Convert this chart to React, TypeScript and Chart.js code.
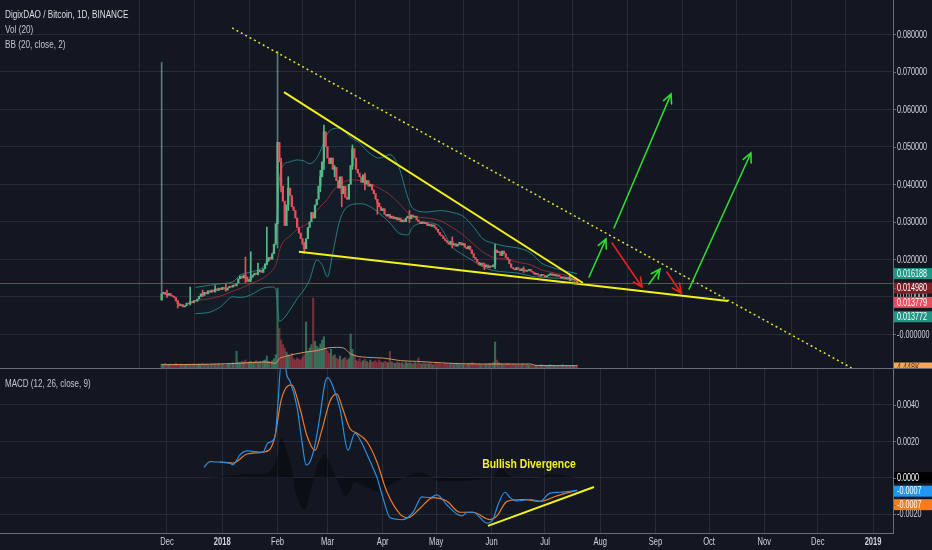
import React, { useEffect, useRef } from "react";
import { Chart, registerables } from "chart.js";

Chart.register(...registerables);

// ---------------- data (day 0 = 1 Dec 2017, one candle per day) ----------------
const firstDay = -3;
const firstOpen = 0.0092;
const closes: number[] = [
  0.0108, 0.0112, 0.0106, 0.0104, 0.0109, 0.0103, 0.0101, 0.0098, 0.0089, 0.0082,
  0.0076, 0.0079, 0.0073, 0.0076, 0.0083, 0.0081, 0.0087, 0.0084, 0.0090, 0.0088,
  0.0094, 0.0101, 0.0108, 0.0104, 0.0112, 0.0108, 0.0116, 0.0112, 0.0118, 0.0114,
  0.0121, 0.0117, 0.0123, 0.0119, 0.0125, 0.0121, 0.0118, 0.0124, 0.0128, 0.0126,
  0.0131, 0.0129, 0.0136, 0.0148, 0.0155, 0.0150, 0.0158, 0.0153, 0.0141, 0.0146,
  0.0152, 0.0158, 0.0163, 0.0160, 0.0167, 0.0171, 0.0165, 0.0175, 0.0188, 0.0196,
  0.0205, 0.0200, 0.0215, 0.0240, 0.0295, 0.0512, 0.0460, 0.0395, 0.0355, 0.0290,
  0.0345, 0.0390, 0.0370, 0.0340, 0.0330, 0.0310, 0.0285, 0.0270, 0.0255, 0.0240,
  0.0228, 0.0255, 0.0285, 0.0300, 0.0325, 0.0310, 0.0345, 0.0360, 0.0395, 0.0420,
  0.0460, 0.0540, 0.0500, 0.0470, 0.0455, 0.0470, 0.0440, 0.0445, 0.0410, 0.0390,
  0.0420, 0.0375, 0.0395, 0.0365, 0.0360, 0.0400, 0.0450, 0.0495, 0.0470, 0.0440,
  0.0430, 0.0420, 0.0405, 0.0425, 0.0400, 0.0410, 0.0395, 0.0400, 0.0385, 0.0375,
  0.0360, 0.0350, 0.0340, 0.0330, 0.0335, 0.0320, 0.0315, 0.0320, 0.0310, 0.0315,
  0.0308, 0.0312, 0.0305, 0.0310, 0.0300, 0.0305, 0.0300, 0.0310, 0.0315, 0.0308,
  0.0318, 0.0312, 0.0315, 0.0305, 0.0300, 0.0295, 0.0300, 0.0295, 0.0298, 0.0290,
  0.0293, 0.0288, 0.0292, 0.0285, 0.0280, 0.0272, 0.0265, 0.0262, 0.0255, 0.0250,
  0.0245, 0.0240, 0.0248, 0.0238, 0.0242, 0.0235, 0.0240, 0.0245, 0.0238, 0.0242,
  0.0232, 0.0228, 0.0235, 0.0225, 0.0215, 0.0205, 0.0200, 0.0192, 0.0185, 0.0190,
  0.0182, 0.0180, 0.0185, 0.0178, 0.0182, 0.0180, 0.0185, 0.0225, 0.0218, 0.0220,
  0.0210, 0.0222, 0.0215, 0.0205, 0.0200, 0.0188, 0.0178, 0.0175, 0.0172, 0.0178,
  0.0174, 0.0170, 0.0175, 0.0172, 0.0168, 0.0170, 0.0173, 0.0168, 0.0165, 0.0160,
  0.0162, 0.0158, 0.0155, 0.0160, 0.0157, 0.0153, 0.0156, 0.0158, 0.0162, 0.0157,
  0.0160, 0.0155, 0.0158, 0.0154, 0.0150, 0.0153, 0.0148, 0.0152, 0.0147, 0.0150,
  0.0145, 0.0148, 0.0143, 0.013779,
];

// [day, low, high] of visible wicks
const wickSpikes: number[][] = [
  [-3, 0.009, 0.0725], [0, 0.0098, 0.0118], [6, 0.007, 0.009], [13, 0.0078, 0.0126],
  [20, 0.01, 0.0118], [27, 0.0112, 0.013], [33, 0.0115, 0.0133], [44, 0.0138, 0.0206],
  [47, 0.014, 0.022], [51, 0.0158, 0.019], [56, 0.0185, 0.0286], [62, 0.023, 0.0755],
  [64, 0.038, 0.047], [68, 0.033, 0.042], [77, 0.0215, 0.0245], [86, 0.038, 0.0437],
  [88, 0.044, 0.0558], [94, 0.042, 0.045], [98, 0.034, 0.0395], [104, 0.044, 0.0505],
  [111, 0.0385, 0.043], [118, 0.032, 0.036], [136, 0.0298, 0.033], [160, 0.023, 0.026],
  [178, 0.0172, 0.019], [184, 0.0175, 0.024], [200, 0.0165, 0.018], [226, 0.0142, 0.016],
];

// volume, thousands
const volumesK: number[] = [
  6, 5, 7, 4, 5, 6, 4, 5, 7, 5,
  4, 6, 5, 4, 5, 6, 4, 5, 6, 4,
  5, 6, 5, 7, 5, 6, 5, 4, 6, 5,
  6, 5, 7, 5, 6, 5, 4, 6, 7, 6,
  8, 7, 25, 9, 8, 10, 9, 12, 8, 9,
  10, 8, 9, 11, 8, 10, 9, 11, 12, 18,
  10, 9, 11, 14, 20, 120, 59, 42, 35, 30,
  24, 20, 18, 22, 14, 12, 15, 13, 12, 16,
  20, 69, 25, 30, 35, 105, 40, 33, 30, 36,
  42, 47, 30, 26, 22, 28, 18, 20, 15, 13,
  18, 12, 14, 16, 12, 14, 51, 28, 20, 12,
  10, 14, 9, 11, 13, 10, 8, 12, 9, 10,
  11, 8, 12, 9, 8, 10, 9, 8, 25, 9,
  8, 7, 9, 8, 7, 8, 6, 9, 7, 8,
  7, 6, 8, 7, 15, 7, 6, 8, 6, 7,
  6, 7, 5, 6, 8, 6, 7, 5, 6, 7,
  6, 5, 7, 6, 5, 6, 7, 5, 6, 5,
  6, 5, 7, 6, 8, 7, 6, 5, 6, 5,
  6, 5, 6, 5, 7, 6, 8, 39, 12, 8,
  7, 6, 5, 6, 7, 6, 5, 6, 5, 4,
  5, 4, 5, 6, 4, 5, 4, 5, 4, 3,
  4, 3, 4, 5, 3, 4, 3, 4, 5, 3,
  4, 3, 4, 3, 4, 5, 3, 4, 3, 4,
  3, 4, 3, 4.448,
];

const volMaDays = [-3, 20, 40, 55, 61, 63, 66, 72, 78, 84, 90, 95, 99, 103, 112, 121, 131, 140, 159, 177, 204, 207, 230];
const volMaValues = [5, 5.5, 7, 9, 7, 14, 17, 21, 24, 26, 30, 31, 30, 21, 16, 15, 11, 10, 7, 6, 6, 3.8, 3.5];

// Bollinger Bands (20, close, 2)
const bbDays = [16, 24, 30, 37, 41, 47, 54, 59, 61, 62, 63, 65, 69, 73, 77, 80, 84, 87, 90, 93, 97, 103, 108, 112, 119, 125, 130, 135, 138, 146, 153, 160, 166, 172, 177, 183, 190, 197, 204, 210, 217, 224, 230];
const bbUpper = [0.0125, 0.0131, 0.0135, 0.014, 0.0158, 0.0166, 0.018, 0.0215, 0.0255, 0.0335, 0.041, 0.045, 0.046, 0.0465, 0.0462, 0.0455, 0.047, 0.05, 0.0535, 0.0548, 0.055, 0.0525, 0.051, 0.049, 0.047, 0.0479, 0.0447, 0.0366, 0.0335, 0.0326, 0.033, 0.0325, 0.0315, 0.0286, 0.0255, 0.0243, 0.0235, 0.023, 0.0217, 0.019, 0.0177, 0.0168, 0.016188];
const bbBasis = [0.009, 0.0095, 0.0102, 0.0115, 0.0122, 0.0135, 0.015, 0.017, 0.0185, 0.02, 0.0222, 0.0245, 0.0262, 0.028, 0.029, 0.03, 0.033, 0.0345, 0.036, 0.0382, 0.04, 0.0412, 0.041, 0.0405, 0.039, 0.0372, 0.035, 0.0325, 0.0315, 0.031, 0.0303, 0.0285, 0.0265, 0.024, 0.022, 0.0205, 0.02, 0.0192, 0.0185, 0.0172, 0.0164, 0.0157, 0.01498];
const bbLower = [0.0055, 0.0059, 0.0073, 0.01, 0.0098, 0.0105, 0.0123, 0.0126, 0.012, 0.007, 0.0035, 0.004, 0.0065, 0.0095, 0.012, 0.0145, 0.0198, 0.0185, 0.0153, 0.0217, 0.0305, 0.0345, 0.0348, 0.0345, 0.0323, 0.0297, 0.027, 0.0265, 0.0287, 0.0297, 0.0287, 0.0233, 0.0212, 0.0195, 0.018, 0.017, 0.0166, 0.0163, 0.0155, 0.0152, 0.015, 0.0147, 0.013772];

// MACD (12, 26, close, 9)
const macdDays = [20.8, 24.1, 30, 35.3, 37, 40.9, 44.9, 53.8, 56.6, 60.6, 62.3, 63.9, 66.2, 67.3, 69, 72.9, 75.7, 78, 80.2, 83, 85.8, 88.6, 90.3, 93.1, 97, 101.5, 105.4, 108.2, 113.9, 117.8, 121.1, 125.1, 132.4, 138, 143, 147.5, 151.4, 157, 162.6, 165.5, 168.3, 171.6, 179.5, 182.8, 185.6, 189.6, 192.4, 196.3, 203.6, 209.2, 214.8, 220.4, 230];
const macdValues = [0.00057, 0.00088, 0.00085, 0.0008, 0.0007, 0.00125, 0.00147, 0.0014, 0.0019, 0.00225, 0.0042, 0.0062, 0.0062, 0.0056, 0.0053, 0.0039, 0.00197, 0.0007, 0.00087, 0.0018, 0.0034, 0.0052, 0.0055, 0.005, 0.0038, 0.0015, 0.00245, 0.0021, 0.0009, 0.0, -0.0011, -0.0022, -0.0023, -0.0019, -0.00105, -0.0011, -0.00095, -0.0015, -0.002, -0.0021, -0.0019, -0.0019, -0.0025, -0.0023, -0.0015, -0.0008, -0.0011, -0.00128, -0.0012, -0.0013, -0.00085, -0.0008, -0.0007];
const signalDays = [29.7, 37, 44.9, 53.8, 58, 60.6, 63.9, 66.5, 69.9, 74.6, 78.5, 83, 86.8, 91.4, 95.2, 98.5, 102.6, 106.4, 112, 117.6, 123.2, 130.7, 135.2, 141.9, 149.2, 157, 164.3, 171.6, 181.2, 185.1, 190.7, 199.7, 209.2, 218.7, 230];
const signalValues = [0.00086, 0.0008, 0.0013, 0.0014, 0.0016, 0.0023, 0.0042, 0.0049, 0.0051, 0.0038, 0.0023, 0.0015, 0.0026, 0.0042, 0.0046, 0.0038, 0.0027, 0.00245, 0.002, 0.0009, -0.00075, -0.002, -0.0022, -0.00168, -0.0011, -0.0013, -0.0019, -0.0019, -0.0023, -0.0021, -0.0013, -0.0012, -0.0013, -0.001, -0.0007];
const histDays = [21, 35, 45, 54, 58, 62, 64, 67, 70, 72, 75, 77, 80, 83, 86, 89, 91, 94, 97, 100, 103, 105, 109, 114, 119, 125, 131, 138, 142, 147, 153, 164, 176, 183, 187, 192, 204, 215, 230];
const histValues = [0, 0.0001, 0.0002, 0.0002, 0.0004, 0.0012, 0.0022, 0.0015, 0.0005, -0.0008, -0.0015, -0.0018, -0.001, 0.0003, 0.001, 0.0013, 0.0008, 0.0002, -0.0005, -0.001, -0.0007, -0.0002, -0.0004, -0.0006, -0.0008, -0.0004, -0.0001, 0.0002, 0.0003, 0.0001, -0.0002, -0.0002, -0.0001, 0, 0.0005, 0.0001, -0.0001, 0.0002, 0];

// axis ticks
const monthTickDays = [0, 31, 62, 90, 121, 151, 182, 212, 243, 274, 304, 335, 365, 396];
const monthTickLabels = ["Dec", "2018", "Feb", "Mar", "Apr", "May", "Jun", "Jul", "Aug", "Sep", "Oct", "Nov", "Dec", "2019"];
const priceTicks = [0, 0.01, 0.02, 0.03, 0.04, 0.05, 0.06, 0.07, 0.08];
const macdTicks = [-0.002, 0, 0.002, 0.004];

// drawings: [day, price]
const wedgeUpper = [[65.6, 0.0646], [233.3, 0.01368]];
const wedgeLower = [[74, 0.022], [314.6, 0.00889]];
const dottedTrend = [[36.5, 0.0817], [384, -0.009]];
const greenArrows = [
  [[236.7, 0.01528], [246.2, 0.02541]],
  [[250.7, 0.02835], [282.7, 0.06408]],
  [[270.3, 0.01341], [276.5, 0.01741]],
  [[292.8, 0.01208], [327.5, 0.04835]],
];
const redArrows = [
  [[249.6, 0.02435], [266.4, 0.01261]],
  [[280.4, 0.01661], [288.3, 0.01101]],
];
const macdTrend = [[180, -0.00265], [239.5, -0.00051]];
const noteText = "Bullish Divergence";
const notePos = [203, 0.00075];

const titleLines = ["DigixDAO / Bitcoin, 1D, BINANCE", "Vol (20)", "BB (20, close, 2)"];
const macdTitle = "MACD (12, 26, close, 9)";

// ---------------- style ----------------
const W = 932;
const TOP_H = 368;
const BOT_H = 182;
const AXIS_W = 39;
const BG = "#131722";
const GRID = "#272b36";
const AXIS = "#6a6d78";
const TXT = "#d1d4dc";
const UP = "#53b987";
const DOWN = "#eb4d5c";
const FONT = "'Liberation Sans', Arial, sans-serif";

const X_MIN = -93.66;
const X_MAX = 407.18;
const P_MIN = -0.00899;
const P_MAX = 0.08915;
const VOL_MAX = 552;
const M_MIN = -0.00304;
const M_MAX = 0.00597;

// ---------------- helpers ----------------
function drawText(ctx: CanvasRenderingContext2D, s: string, x: number, y: number, size: number, color: string, align: CanvasTextAlign = "left", bold = false, sx = 0.72) {
  ctx.save();
  ctx.translate(x, y);
  ctx.scale(sx, 1);
  ctx.font = `${bold ? "bold " : ""}${size}px ${FONT}`;
  ctx.fillStyle = color;
  ctx.textAlign = align;
  ctx.textBaseline = "middle";
  ctx.fillText(s, 0, 0);
  ctx.restore();
}

type Tag = { v: number; text: string; bg: string; fg: string };
function drawTags(ctx: CanvasRenderingContext2D, scale: any, tags: Tag[], gap: number, left: number) {
  let prev = -Infinity;
  for (const t of tags) {
    let c = scale.getPixelForValue(t.v);
    if (c < prev + gap) c = prev + gap;
    prev = c;
    ctx.fillStyle = t.bg;
    ctx.fillRect(left + 1, c - 5.5, W - left - 1, 11);
    ctx.strokeStyle = AXIS;
    ctx.lineWidth = 1;
    ctx.beginPath();
    ctx.moveTo(left, Math.round(c) + 0.5);
    ctx.lineTo(left + 3, Math.round(c) + 0.5);
    ctx.stroke();
    drawText(ctx, t.text, left + 4, c + 0.5, 10, t.fg);
  }
}

function drawArrow(ctx: CanvasRenderingContext2D, xs: any, ys: any, seg: number[][], color: string) {
  const x0 = xs.getPixelForValue(seg[0][0]);
  const y0 = ys.getPixelForValue(seg[0][1]);
  const x1 = xs.getPixelForValue(seg[1][0]);
  const y1 = ys.getPixelForValue(seg[1][1]);
  const a = Math.atan2(y1 - y0, x1 - x0);
  const L = 10;
  ctx.strokeStyle = color;
  ctx.lineWidth = 1.6;
  ctx.lineCap = "round";
  ctx.beginPath();
  ctx.moveTo(x0, y0);
  ctx.lineTo(x1, y1);
  ctx.moveTo(x1 - L * Math.cos(a - 0.45), y1 - L * Math.sin(a - 0.45));
  ctx.lineTo(x1, y1);
  ctx.lineTo(x1 - L * Math.cos(a + 0.45), y1 - L * Math.sin(a + 0.45));
  ctx.stroke();
}

const pts = (days: number[], vals: number[]) => days.map((d, i) => ({ x: d, y: vals[i] }));
const segPts = (seg: number[][]) => seg.map((p) => ({ x: p[0], y: p[1] }));

export default function App() {
  const topRef = useRef<HTMLCanvasElement>(null);
  const botRef = useRef<HTMLCanvasElement>(null);

  useEffect(() => {
    document.body.style.margin = "0";
    document.body.style.background = BG;
    const days = closes.map((_, i) => firstDay + i);
    const opens = closes.map((c, i) => (i === 0 ? firstOpen : closes[i - 1]));
    const up = closes.map((c, i) => c >= opens[i]);
    const dayIndex = (d: number) => d - firstDay;
    const lastClose = closes[closes.length - 1];

    const monthTicks = (s: any) => {
      s.ticks = monthTickDays.map((v) => ({ value: v }));
    };

    const topOverlay = {
      id: "topOverlay",
      afterDatasetsDraw(chart: any) {
        const { ctx, chartArea } = chart;
        const xs = chart.scales.x;
        const ys = chart.scales.y;
        ctx.save();
        ctx.beginPath();
        ctx.rect(chartArea.left, chartArea.top, chartArea.right - chartArea.left, chartArea.bottom - chartArea.top);
        ctx.clip();
        const py = Math.round(ys.getPixelForValue(lastClose)) + 0.5;
        ctx.strokeStyle = "rgba(235,77,92,0.6)";
        ctx.lineWidth = 1;
        ctx.beginPath();
        ctx.moveTo(chartArea.left, py);
        ctx.lineTo(chartArea.right, py);
        ctx.stroke();
        greenArrows.forEach((s) => drawArrow(ctx, xs, ys, s, "#2fdc2f"));
        redArrows.forEach((s) => drawArrow(ctx, xs, ys, s, "#e8221f"));
        ctx.restore();
      },
      afterDraw(chart: any) {
        const { ctx, chartArea } = chart;
        const ys = chart.scales.y;
        const yv = chart.scales.yVol;
        const ax = chartArea.right;
        ctx.save();
        for (const v of priceTicks) {
          const y = ys.getPixelForValue(v);
          ctx.strokeStyle = AXIS;
          ctx.lineWidth = 1;
          ctx.beginPath();
          ctx.moveTo(ax, Math.round(y) + 0.5);
          ctx.lineTo(ax + 3, Math.round(y) + 0.5);
          ctx.stroke();
          drawText(ctx, v === 0 ? "-0.000000" : v.toFixed(6), ax + 4, y + 0.5, 10, TXT);
        }
        // volume tag
        const lastVol = volumesK[volumesK.length - 1];
        const vy = yv.getPixelForValue(lastVol) + 3;
        ctx.fillStyle = "#f7a656";
        ctx.fillRect(ax + 1, vy - 5.5, W - ax - 1, 11);
        drawText(ctx, lastVol.toFixed(3) + "K", ax + 4, vy + 0.5, 10, "#5a3a1a");
        drawTags(ctx, ys, [
          { v: bbUpper[bbUpper.length - 1], text: bbUpper[bbUpper.length - 1].toFixed(6), bg: "#1f9684", fg: "#ffffff" },
          { v: bbBasis[bbBasis.length - 1], text: bbBasis[bbBasis.length - 1].toFixed(6), bg: "#7c1f24", fg: "#ffffff" },
          { v: lastClose, text: lastClose.toFixed(6), bg: "#e64f5f", fg: "#ffffff" },
          { v: bbLower[bbLower.length - 1], text: bbLower[bbLower.length - 1].toFixed(6), bg: "#1f9684", fg: "#ffffff" },
        ], 14.4, ax);
        titleLines.forEach((t, i) => drawText(ctx, t, 5, 14.5 + i * 15, 11, i === 0 ? "#dcdee3" : "#c3c6cd", "left", false, 0.745));
        ctx.restore();
      },
    };

    const botOverlay = {
      id: "botOverlay",
      afterDraw(chart: any) {
        const { ctx, chartArea } = chart;
        const xs = chart.scales.x;
        const ys = chart.scales.y;
        const ax = chartArea.right;
        ctx.save();
        ctx.strokeStyle = AXIS;
        ctx.lineWidth = 1;
        ctx.beginPath();
        ctx.moveTo(0, 0.5);
        ctx.lineTo(W, 0.5);
        ctx.stroke();
        for (const v of macdTicks) {
          const y = ys.getPixelForValue(v);
          ctx.beginPath();
          ctx.moveTo(ax, Math.round(y) + 0.5);
          ctx.lineTo(ax + 3, Math.round(y) + 0.5);
          ctx.stroke();
          drawText(ctx, v.toFixed(4), ax + 4, y + 0.5, 10, TXT);
        }
        monthTickDays.forEach((d, i) => {
          const lab = monthTickLabels[i];
          drawText(ctx, lab, xs.getPixelForValue(d), chartArea.bottom + 9.5, 10.5, TXT, "center", /^\d{4}$/.test(lab));
        });
        drawTags(ctx, ys, [
          { v: histValues[histValues.length - 1], text: histValues[histValues.length - 1].toFixed(4), bg: "#000000", fg: "#ffffff" },
          { v: macdValues[macdValues.length - 1], text: macdValues[macdValues.length - 1].toFixed(4), bg: "#2196f3", fg: "#ffffff" },
          { v: signalValues[signalValues.length - 1], text: signalValues[signalValues.length - 1].toFixed(4), bg: "#f57c1f", fg: "#ffffff" },
        ], 13.5, ax);
        drawText(ctx, macdTitle, 5, 16, 11, "#c3c6cd", "left", false, 0.73);
        drawText(ctx, noteText, xs.getPixelForValue(notePos[0]), ys.getPixelForValue(notePos[1]), 13, "#f3f21e", "center", true, 0.8);
        ctx.restore();
      },
    };

    const topChart = new Chart(topRef.current as HTMLCanvasElement, {
      type: "bar",
      data: {
        datasets: [
          {
            type: "line", data: pts(bbDays, bbUpper), borderColor: "rgba(40,150,145,0.8)", borderWidth: 1,
            pointRadius: 0, cubicInterpolationMode: "monotone", fill: { target: 1 }, backgroundColor: "rgba(38,166,154,0.045)", order: 8,
          } as any,
          {
            type: "line", data: pts(bbDays, bbLower), borderColor: "rgba(40,150,145,0.8)", borderWidth: 1,
            pointRadius: 0, cubicInterpolationMode: "monotone", fill: false, order: 7,
          } as any,
          {
            type: "line", data: pts(bbDays, bbBasis), borderColor: "rgba(150,45,60,0.9)", borderWidth: 1,
            pointRadius: 0, cubicInterpolationMode: "monotone", fill: false, order: 6,
          } as any,
          {
            type: "bar", yAxisID: "yVol", data: days.map((d, i) => ({ x: d, y: volumesK[i] })),
            backgroundColor: up.map((u) => (u ? "rgba(83,185,135,0.5)" : "rgba(235,77,92,0.45)")),
            barThickness: 1.5, grouped: false, borderWidth: 0, order: 10,
          } as any,
          {
            type: "line", yAxisID: "yVol", data: pts(volMaDays, volMaValues), borderColor: "rgba(230,160,100,0.9)",
            borderWidth: 1, pointRadius: 0, cubicInterpolationMode: "monotone", fill: false, order: 9,
          } as any,
          {
            type: "bar", data: wickSpikes.map((w) => ({ x: w[0], y: [w[1], w[2]] })),
            backgroundColor: wickSpikes.map((w) => (w[2] > 0.07 ? "rgba(160,200,190,0.55)" : up[dayIndex(w[0])] ? UP : DOWN)),
            barThickness: 1, grouped: false, borderWidth: 0, order: 5,
          } as any,
          {
            type: "bar", data: days.map((d, i) => ({ x: d, y: [opens[i], closes[i]] })),
            backgroundColor: up.map((u) => (u ? UP : DOWN)),
            barThickness: 1.6, minBarLength: 1, grouped: false, borderWidth: 0, order: 4,
          } as any,
          {
            type: "line", data: segPts(wedgeUpper), borderColor: "#f2f21a", borderWidth: 2, pointRadius: 0, fill: false, order: 2,
          } as any,
          {
            type: "line", data: segPts(wedgeLower), borderColor: "#f2f21a", borderWidth: 2, pointRadius: 0, fill: false, order: 2,
          } as any,
          {
            type: "line", data: segPts(dottedTrend), borderColor: "#e2e32e", borderWidth: 1.5, borderDash: [2, 3],
            pointRadius: 0, fill: false, order: 1,
          } as any,
        ],
      },
      options: {
        animation: false,
        responsive: false,
        events: [],
        layout: { padding: 0 },
        plugins: { legend: { display: false }, tooltip: { enabled: false } },
        scales: {
          x: {
            type: "linear", min: X_MIN, max: X_MAX, offset: false,
            grid: { color: GRID, drawTicks: false }, border: { display: false }, ticks: { display: false },
            afterBuildTicks: monthTicks, afterFit: (s: any) => { s.height = 0; },
          },
          y: {
            position: "right", min: P_MIN, max: P_MAX,
            grid: { color: GRID, drawTicks: false }, border: { display: true, color: AXIS }, ticks: { display: false },
            afterBuildTicks: (s: any) => { s.ticks = priceTicks.map((v) => ({ value: v })); },
            afterFit: (s: any) => { s.width = AXIS_W; },
          },
          yVol: { display: false, position: "left", min: 0, max: VOL_MAX },
        },
      } as any,
      plugins: [topOverlay],
    });

    const botChart = new Chart(botRef.current as HTMLCanvasElement, {
      type: "line",
      data: {
        datasets: [
          {
            data: pts(histDays, histValues), borderWidth: 0, borderColor: "rgba(0,0,0,0)", pointRadius: 0,
            fill: "origin", backgroundColor: "rgba(0,0,0,0.38)", cubicInterpolationMode: "monotone", order: 5,
          } as any,
          {
            data: pts(signalDays, signalValues), borderColor: "#ef7a27", borderWidth: 1.2, pointRadius: 0,
            cubicInterpolationMode: "monotone", fill: false, order: 3,
          } as any,
          {
            data: pts(macdDays, macdValues), borderColor: "#2a8fe0", borderWidth: 1.2, pointRadius: 0,
            cubicInterpolationMode: "monotone", fill: false, order: 2,
          } as any,
          {
            data: segPts(macdTrend), borderColor: "#f2f21a", borderWidth: 2, pointRadius: 0, fill: false, order: 1,
          } as any,
        ],
      },
      options: {
        animation: false,
        responsive: false,
        events: [],
        layout: { padding: { top: 1 } },
        plugins: { legend: { display: false }, tooltip: { enabled: false } },
        scales: {
          x: {
            type: "linear", min: X_MIN, max: X_MAX, offset: false,
            grid: { color: GRID, drawTicks: false }, border: { display: true, color: AXIS }, ticks: { display: false },
            afterBuildTicks: monthTicks, afterFit: (s: any) => { s.height = 17; },
          },
          y: {
            position: "right", min: M_MIN, max: M_MAX,
            grid: { color: GRID, drawTicks: false }, border: { display: true, color: AXIS }, ticks: { display: false },
            afterBuildTicks: (s: any) => { s.ticks = macdTicks.map((v) => ({ value: v })); },
            afterFit: (s: any) => { s.width = AXIS_W; },
          },
        },
      } as any,
      plugins: [botOverlay],
    });

    return () => {
      topChart.destroy();
      botChart.destroy();
    };
  }, []);

  return (
    <div style={{ position: "fixed", left: 0, top: 0, width: W, height: TOP_H + BOT_H, background: BG, overflow: "hidden" }}>
      <canvas ref={topRef} width={W} height={TOP_H} style={{ position: "absolute", left: 0, top: 0, width: W, height: TOP_H }} />
      <canvas ref={botRef} width={W} height={BOT_H} style={{ position: "absolute", left: 0, top: TOP_H, width: W, height: BOT_H }} />
    </div>
  );
}
